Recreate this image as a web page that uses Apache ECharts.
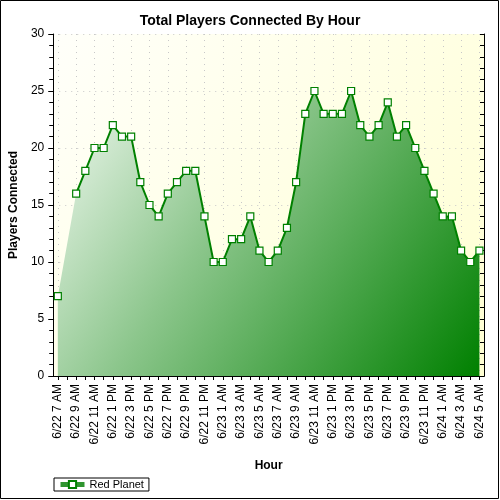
<!DOCTYPE html>
<html><head><meta charset="utf-8">
<script src="https://cdn.jsdelivr.net/npm/echarts@6/dist/echarts.min.js"></script>
<style>html,body{margin:0;padding:0;background:#fff}#c{width:500px;height:500px}</style>
</head><body><div id="c"></div>
<script>
const hours = ['6/22 7 AM','6/22 8 AM','6/22 9 AM','6/22 10 AM','6/22 11 AM','6/22 12 PM','6/22 1 PM','6/22 2 PM','6/22 3 PM','6/22 4 PM','6/22 5 PM','6/22 6 PM','6/22 7 PM','6/22 8 PM','6/22 9 PM','6/22 10 PM','6/22 11 PM','6/23 12 AM','6/23 1 AM','6/23 2 AM','6/23 3 AM','6/23 4 AM','6/23 5 AM','6/23 6 AM','6/23 7 AM','6/23 8 AM','6/23 9 AM','6/23 10 AM','6/23 11 AM','6/23 12 PM','6/23 1 PM','6/23 2 PM','6/23 3 PM','6/23 4 PM','6/23 5 PM','6/23 6 PM','6/23 7 PM','6/23 8 PM','6/23 9 PM','6/23 10 PM','6/23 11 PM','6/24 12 AM','6/24 1 AM','6/24 2 AM','6/24 3 AM','6/24 4 AM','6/24 5 AM'];
const redPlanet = [7,null,16,18,20,20,22,21,21,17,15,14,16,17,18,18,14,10,10,12,12,14,11,10,11,13,17,23,25,23,23,23,25,22,21,22,24,21,22,20,18,16,14,14,11,10,11];
const seriesName = 'Red Planet';
const chartTitle = 'Total Players Connected By Hour';
const xName = 'Hour';
const yName = 'Players Connected';
const yMin = 0, yMax = 30, yStep = 5;

const FONT = 'Arial, "Liberation Sans", sans-serif';
const chart = echarts.init(document.getElementById('c'), null, {renderer:'canvas'});
const axisLine = {show:true, lineStyle:{color:'#000', width:1}};
const option = {
  animation:false,
  backgroundColor:'#fff',
  textStyle:{fontFamily:FONT},
  title:{text:chartTitle, left:'center', top:9, textStyle:{fontSize:14, fontWeight:'bold', color:'#000', fontFamily:FONT}},
  grid:{left:53, top:34, right:16, bottom:124, show:true, borderWidth:0,
    backgroundColor:{type:'linear', x:0, y:0, x2:1, y2:1, colorStops:[{offset:0,color:'#fffffa'},{offset:1,color:'#ffffd2'}]}},
  legend:{data:[seriesName], left:54, top:478, orient:'horizontal', padding:[1,5,1,4],
    borderColor:'#000', borderWidth:1, borderRadius:0, itemWidth:24, itemHeight:9, itemGap:6,
    lineStyle:{width:5, color:'#2f952f'},
    textStyle:{fontSize:11, color:'#000', fontFamily:FONT}},
  xAxis:[
    {type:'category', data:hours, boundaryGap:true, position:'bottom',
      name:xName, nameLocation:'middle', nameGap:84, nameTextStyle:{fontSize:12, fontWeight:'bold', color:'#000', fontFamily:FONT},
      axisLine:axisLine,
      axisTick:{show:true, interval:0, alignWithLabel:true, length:4, lineStyle:{color:'#000'}},
      axisLabel:{interval:1, rotate:90, fontSize:12, color:'#000', margin:8, fontFamily:FONT},
      splitLine:{show:true, interval:1, alignWithLabel:true, lineStyle:{color:'#c8c8c8', type:[1,5], width:1}}},
    {type:'category', data:hours, boundaryGap:true, position:'top',
      axisLine:axisLine,
      axisTick:{show:true, interval:0, alignWithLabel:true, inside:true, length:4, lineStyle:{color:'#000'}},
      axisLabel:{show:false}, splitLine:{show:false}}
  ],
  yAxis:[
    {type:'value', min:yMin, max:yMax, interval:yStep, position:'left',
      name:yName, nameLocation:'middle', nameGap:29, nameTextStyle:{fontSize:12, fontWeight:'bold', color:'#000', fontFamily:FONT},
      axisLine:axisLine,
      axisTick:{show:true, length:5, lineStyle:{color:'#000'}},
      minorTick:{show:true, splitNumber:5, length:4, lineStyle:{color:'#000'}},
      axisLabel:{fontSize:12, color:'#000', margin:9, fontFamily:FONT},
      splitLine:{show:true, lineStyle:{color:'#c8c8c8', type:[1,5], width:1}}},
    {type:'value', min:yMin, max:yMax, interval:yStep, position:'right',
      axisLine:axisLine,
      axisTick:{show:true, inside:true, length:4, lineStyle:{color:'#000'}},
      minorTick:{show:true, splitNumber:5, length:4, lineStyle:{color:'#000'}},
      axisLabel:{show:false}, splitLine:{show:false}}
  ],
  series:[
    {name:'area', type:'line', data:redPlanet, connectNulls:true, symbol:'none', silent:true, z:1,
      lineStyle:{width:0, opacity:0},
      areaStyle:{opacity:1, color:{type:'linear', x:0, y:0, x2:1, y2:1,
        colorStops:[{offset:0,color:'#f2f9f2'},{offset:0.4,color:'#8cc68c'},{offset:1,color:'#008000'}]}}},
    {name:seriesName, type:'line', data:redPlanet, connectNulls:false, z:3,
      symbol:'rect', symbolSize:7, showAllSymbol:true,
      itemStyle:{color:'#ffffff', borderColor:'#008000', borderWidth:1.2},
      lineStyle:{color:'#008000', width:2}}
  ],
  graphic:[{type:'rect', shape:{x:0.5, y:0.5, width:498, height:498}, style:{fill:null, stroke:'#000', lineWidth:1}, z:100}]
};
chart.setOption(option);
</script></body></html>
